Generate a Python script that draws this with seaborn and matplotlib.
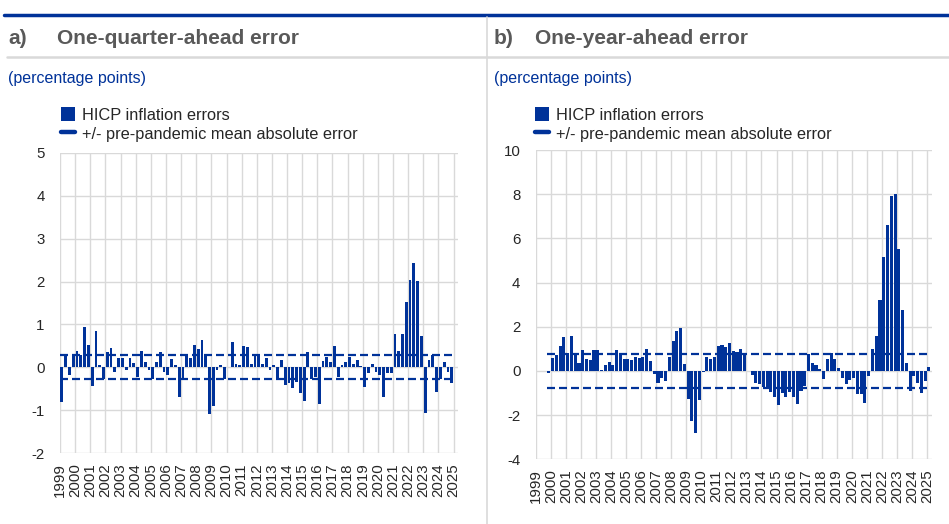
import numpy as np
import pandas as pd
import matplotlib
matplotlib.use("Agg")
import matplotlib.pyplot as plt
import seaborn as sns
from matplotlib.patches import Patch
from matplotlib.lines import Line2D

sns.set_theme(style="white")
plt.rcParams["font.family"] = ["Liberation Sans", "DejaVu Sans"]
plt.rcParams["axes.unicode_minus"] = False

BLUE = "#003299"
GRID = "#d9d9d9"
HEAD = "#595959"

# ---- data: HICP inflation forecast errors (percentage points), quarterly ----
start_a = "1999Q1"
errors_a = [
    -0.81, 0.28, -0.18, 0.28,   0.39, 0.29, 0.94, 0.52,   -0.43, 0.85, 0.05, -0.28,
    0.35, 0.46, -0.10, 0.21,    0.23, -0.06, 0.21, 0.10,  -0.22, 0.39, 0.13, -0.05,
    -0.28, 0.13, 0.35, -0.10,   -0.18, 0.19, 0.05, -0.68, -0.28, 0.29, 0.21, 0.53,
    0.44, 0.65, 0.29, -1.08,    -0.91, -0.06, 0.05, -0.28, 0.02, 0.60, 0.08, 0.05,
    0.50, 0.47, 0.08, 0.32,     0.29, 0.08, 0.23, -0.05,  0.05, -0.28, 0.17, -0.41,
    -0.36, -0.47, -0.33, -0.59, -0.78, 0.36, -0.28, -0.22, -0.85, 0.15, 0.25, 0.13,
    0.50, -0.23, 0.05, 0.13,    0.25, 0.08, 0.17, 0.03,   -0.45, -0.14, 0.09, -0.10,
    -0.18, -0.70, -0.14, -0.12, 0.77, 0.39, 0.78, 1.52,   2.03, 2.42, 2.02, 0.74,
    -1.07, 0.17, 0.30, -0.58,   -0.28, 0.13, -0.10, -0.37,
]
mae_a = 0.28

start_b = "1999Q4"
errors_b = [
    -0.08,
    0.60, 0.72, 1.15, 1.52,     0.82, 1.58, 0.70, 0.35,   0.95, 0.55, 0.50, 0.95,
    0.93, 0.05, 0.28, 0.40,     0.28, 0.95, 0.80, 0.55,   0.55, 0.50, 0.62, 0.60,
    0.65, 0.97, 0.45, -0.15,    -0.55, -0.30, -0.45, 0.65, 1.35, 1.80, 1.95, 0.33,
    -1.25, -2.25, -2.80, -1.30, -0.05, 0.65, 0.55, 0.62,  1.15, 1.18, 1.08, 1.28,
    0.90, 0.85, 1.00, 0.72,     -0.02, -0.20, -0.55, -0.60, -0.72, -0.80, -0.95, -1.20,
    -1.55, -1.00, -1.20, -0.95, -1.20, -1.50, -0.90, -0.70, 0.75, 0.35, 0.25, 0.10,
    -0.35, 0.55, 0.80, 0.55,    0.15, -0.30, -0.60, -0.40, -0.30, -1.05, -1.05, -1.45,
    -0.25, 1.00, 1.60, 3.20,    5.15, 6.60, 7.90, 8.00,   5.50, 2.75, 0.35, -0.90,
    -0.25, -0.55, -1.00, -0.45, 0.20,
]
mae_b = 0.76

years = list(range(1999, 2026))

W, H = 949, 524


def fx(px):
    return px / W


def fy(py):
    return 1 - py / H


def quarter_positions(start, n):
    q = pd.period_range(start, periods=n, freq="Q")
    return np.asarray(q.year + (q.quarter - 1) / 4 + 0.125, dtype=float)


def draw_panel(ax, start, vals, mae, ylim, yticks, xmax, bar_w, legend_xy):
    x = quarter_positions(start, len(vals))
    df = pd.DataFrame({"quarter": x, "error": vals})
    sns.barplot(data=df, x="quarter", y="error", native_scale=True, width=bar_w,
                color=BLUE, saturation=1, linewidth=0, errorbar=None, ax=ax,
                zorder=2)
    lo, hi = x[0] - 0.125, x[-1] + 0.125
    for v in (mae, -mae):
        ax.plot([lo, hi], [v, v], color=BLUE, lw=1.6, ls=(0, (3.6, 1.8)), zorder=3)
    ax.set_xlim(1999, xmax)
    ax.set_ylim(*ylim)
    ax.set_yticks(yticks)
    ax.set_xticks(years)
    ax.set_xticklabels([str(y) for y in years], rotation=90, fontsize=10.8)
    ax.tick_params(axis="y", labelsize=10.8, length=0, pad=11)
    ax.tick_params(axis="x", length=0, pad=7)
    ax.grid(True, color=GRID, lw=1.0, zorder=0)
    ax.set_axisbelow(True)
    for s in ax.spines.values():
        s.set_visible(False)
    ax.set_xlabel("")
    ax.set_ylabel("")
    handles = [
        Patch(facecolor=BLUE, edgecolor="none", label="HICP inflation errors"),
        Line2D([0], [0], color=BLUE, lw=3.2, label="+/- pre-pandemic mean absolute error"),
    ]
    ax.legend(handles=handles, loc="upper left", frameon=False, fontsize=11.8,
              handlelength=0.85, handleheight=0.85, handletextpad=0.45,
              labelspacing=0.22, borderpad=0, borderaxespad=0,
              bbox_to_anchor=legend_xy, bbox_transform=fig.transFigure)


fig = plt.figure(figsize=(W / 100, H / 100), dpi=100)

ax_a = fig.add_axes([fx(60), fy(453.3), fx(458) - fx(60), fy(152.7) - fy(453.3)])
ax_b = fig.add_axes([fx(535.7), fy(459.3), fx(932) - fx(535.7), fy(150) - fy(459.3)])

draw_panel(ax_a, start_a, errors_a, mae_a, (-2, 5), range(-2, 6), 2025.29, 0.74,
           (fx(61), fy(107.5)))
draw_panel(ax_b, start_b, errors_b, mae_b, (-4, 10), range(-4, 11, 2), 2025.33, 0.82,
           (fx(535), fy(107.5)))

# header frame lines
fig.add_artist(Line2D([fx(4), 1], [fy(15), fy(15)], color=BLUE, lw=2.5))
fig.add_artist(Line2D([fx(7), 1], [fy(57), fy(57)], color=GRID, lw=1.8))
fig.add_artist(Line2D([fx(487), fx(487)], [fy(17), 0], color=GRID, lw=1.2))

# panel headers
for x0, x1, lab, title in [(8, 57, "a)", "One-quarter-ahead error"),
                            (494, 535, "b)", "One-year-ahead error")]:
    fig.text(fx(x0), fy(39), lab, color=HEAD, fontsize=15, fontweight="bold",
             va="center", ha="left")
    fig.text(fx(x1), fy(39), title, color=HEAD, fontsize=15, fontweight="bold",
             va="center", ha="left")
    fig.text(fx(x0), fy(78), "(percentage points)", color=BLUE, fontsize=11.5,
             va="center", ha="left")

fig.savefig("out.png", dpi=100, facecolor="white")
